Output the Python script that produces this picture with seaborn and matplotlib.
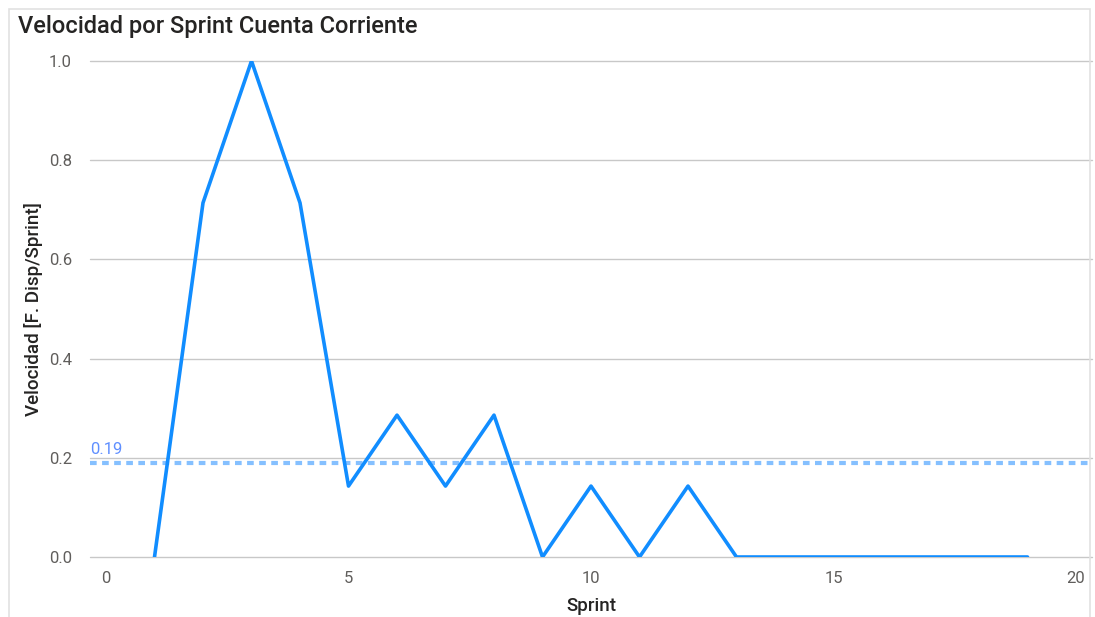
import matplotlib.pyplot as plt
import pandas as pd
import seaborn as sns
from matplotlib.patches import Rectangle

sprints = list(range(1, 20))
velocity = [0.0, 0.714, 1.0, 0.714, 0.143, 0.286, 0.143, 0.286, 0.0, 0.143,
            0.0, 0.143, 0.0, 0.0, 0.0, 0.0, 0.0, 0.0, 0.0]
average = 0.19
x_ticks = [0, 5, 10, 15, 20]
y_ticks = [0.0, 0.2, 0.4, 0.6, 0.8, 1.0]

df = pd.DataFrame({"Sprint": sprints, "Velocidad": velocity})

sns.set_style("white")
plt.rcParams["font.family"] = ["Roboto", "DejaVu Sans"]

fig = plt.figure(figsize=(10.95, 6.17), dpi=100)
ax = fig.add_axes([90 / 1095, 60 / 617, 1002 / 1095, 496 / 617])

# visual border
fig.patches.append(Rectangle((9 / 1095, -0.05), 1081 / 1095, 1.05 - 9 / 617,
                             transform=fig.transFigure, fill=False,
                             edgecolor="#e1e1e1", linewidth=1.2))

for y in y_ticks:
    ax.axhline(y, color="#c8c8c8", linewidth=1, zorder=0, clip_on=False)

ax.axhline(average, color="#85c0ff", linewidth=3, linestyle=(0, (1.6, 1.3)), zorder=1)
ax.text(-0.32, average + 0.012, f"{average:.2f}", color="#5f8fff", fontsize=12,
        va="bottom", ha="left")

sns.lineplot(data=df, x="Sprint", y="Velocidad", color="#118dff", linewidth=2.6,
             ax=ax, zorder=3)

ax.set_xlim(-0.33, 20.33)
ax.set_ylim(0, 1)
ax.set_xticks(x_ticks)
ax.set_yticks(y_ticks)
ax.set_yticklabels([f"{v:.1f}" for v in y_ticks])
ax.tick_params(axis="both", length=0, labelsize=12, labelcolor="#605e5c")
ax.tick_params(axis="y", pad=13)
ax.tick_params(axis="x", pad=10)
for s in ax.spines.values():
    s.set_visible(False)

ax.set_xlabel("Sprint", fontsize=13.5, fontweight="medium", color="#252423", labelpad=8)
ax.set_ylabel("Velocidad [F. Disp/Sprint]", fontsize=13.5, fontweight="medium",
              color="#252423", labelpad=4)
fig.text(18 / 1095, 1 - 27 / 617, "Velocidad por Sprint Cuenta Corriente",
         fontsize=17, fontweight="medium", color="#252423", va="center", ha="left")

fig.savefig("out.png", dpi=100)
